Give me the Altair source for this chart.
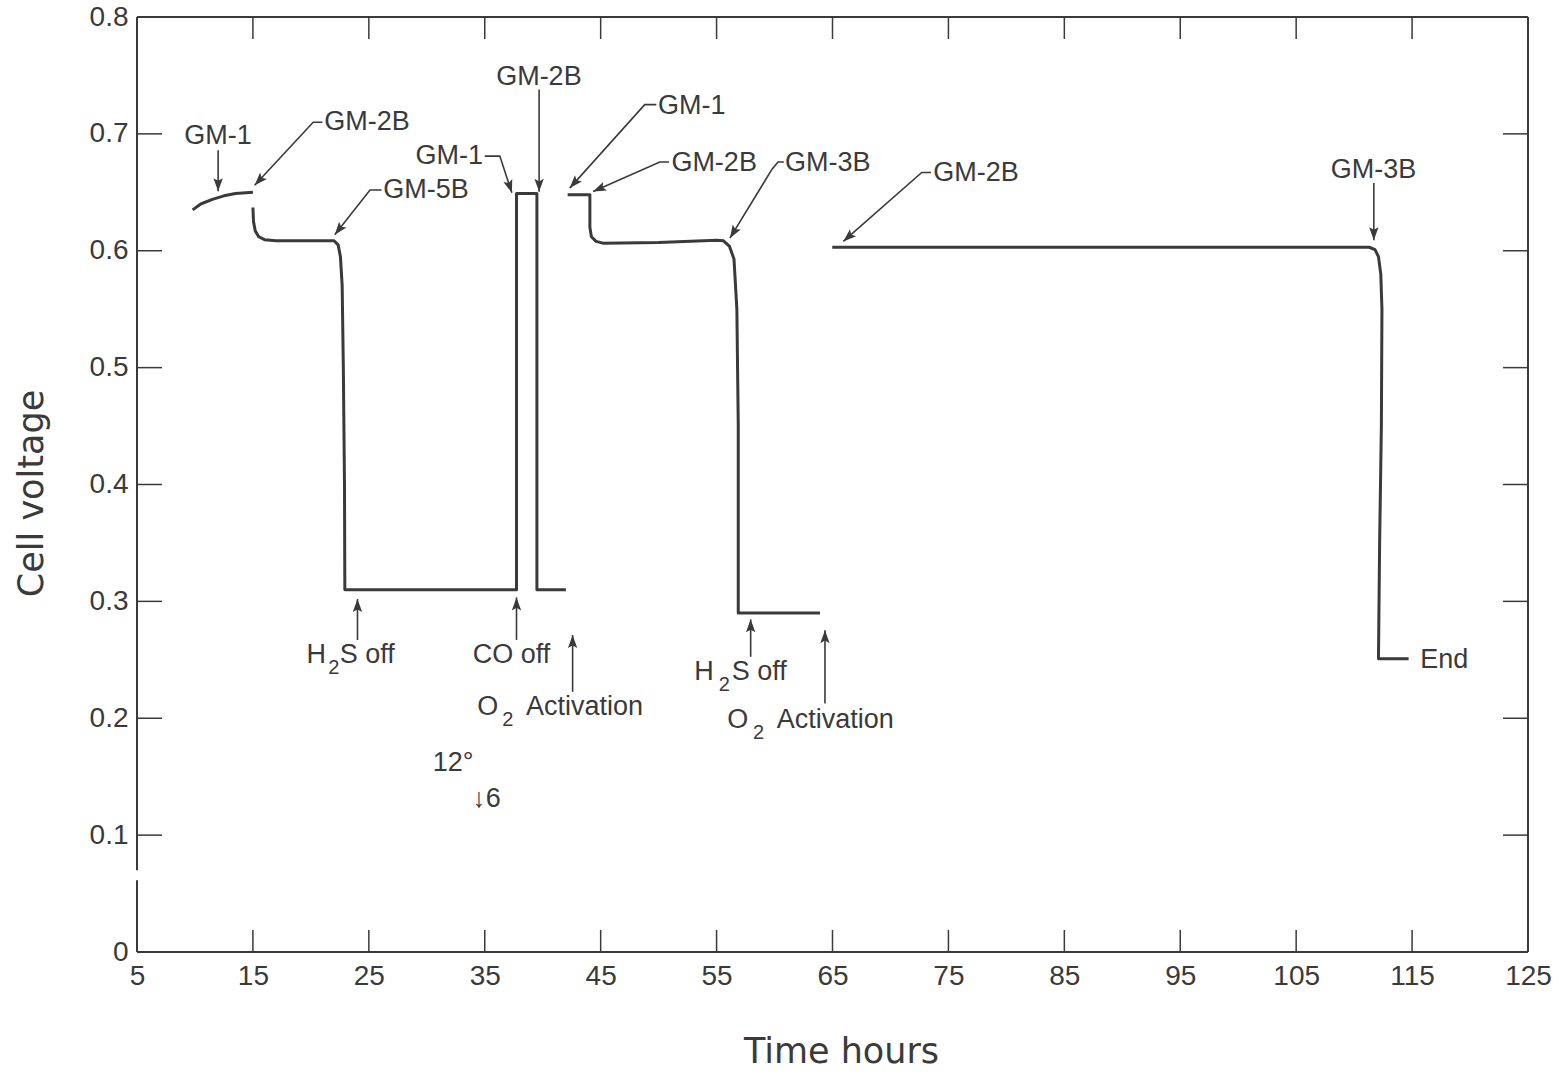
import math
import altair as alt
import pandas as pd

# ---------------- data ----------------
# cell-voltage trace, drawn as separate pieces
seg1_x = [9.8, 10.5, 11.5, 12.5, 13.5, 15.0]
seg1_y = [0.635, 0.640, 0.644, 0.647, 0.649, 0.650]

seg2_x = [15.0, 15.05, 15.2, 15.5, 16.0, 17.0, 22.0, 22.35, 22.55, 22.7, 22.8, 22.9, 22.93,
          37.74, 37.74, 39.5, 39.5, 42.0]
seg2_y = [0.637, 0.625, 0.617, 0.612, 0.6095, 0.6085, 0.6085, 0.605, 0.595, 0.57, 0.50, 0.40, 0.310,
          0.310, 0.649, 0.649, 0.310, 0.310]

seg3_x = [42.15, 44.07, 44.07, 44.2, 44.6, 45.2, 50.0, 55.0, 55.6, 56.1, 56.5, 56.75, 56.87, 56.87, 63.92]
seg3_y = [0.648, 0.648, 0.620, 0.612, 0.608, 0.6065, 0.607, 0.609, 0.6085, 0.604, 0.593, 0.55, 0.45,
          0.290, 0.290]

seg4_x = [64.98, 111.3, 111.8, 112.1, 112.3, 112.4, 112.35, 112.2, 112.1, 114.7]
seg4_y = [0.603, 0.603, 0.601, 0.595, 0.58, 0.55, 0.45, 0.35, 0.251, 0.251]

# annotation arrows: point lists, last point is the arrow tip
arrow_names = ["gm1a", "gm2ba", "gm5b", "gm1b", "gm2btop", "gm1c", "gm2bb", "gm3ba", "gm2bc",
               "gm3bb", "h2sa", "coa", "o2a", "h2sb", "o2b"]
arrow_xs = [
    [12.0, 12.0],
    [21.0, 20.2, 15.15],
    [26.1, 25.1, 22.06],
    [35.0, 36.3, 37.34],
    [39.69, 39.69],
    [49.8, 48.8, 42.33],
    [50.9, 50.1, 44.35],
    [60.8, 60.3, 59.8, 56.15],
    [73.5, 72.7, 65.93],
    [111.7, 111.7],
    [24.02, 24.02],
    [37.74, 37.74],
    [42.58, 42.58],
    [57.94, 57.94],
    [64.35, 64.35],
]
arrow_ys = [
    [0.686, 0.651],
    [0.710, 0.710, 0.656],
    [0.652, 0.652, 0.6136],
    [0.681, 0.681, 0.6496],
    [0.738, 0.6504],
    [0.725, 0.725, 0.6536],
    [0.676, 0.676, 0.6507],
    [0.676, 0.676, 0.670, 0.6108],
    [0.667, 0.667, 0.608],
    [0.658, 0.609],
    [0.267, 0.302],
    [0.267, 0.3034],
    [0.2226, 0.2712],
    [0.2526, 0.2846],
    [0.2127, 0.2754],
]

# labels (left-aligned, right-aligned, centred, and subscript digits)
left_texts = ["GM-2B", "GM-5B", "GM-1", "GM-2B", "GM-3B", "GM-2B", "End",
              "S off", "S off", "Activation", "Activation"]
left_x = [21.15, 26.25, 49.95, 51.1, 60.9, 73.7, 115.7, 22.49, 56.30, 38.55, 60.18]
left_y = [0.710, 0.652, 0.7235, 0.675, 0.675, 0.6664, 0.2497, 0.254, 0.2397, 0.2098, 0.1984]

right_texts = ["GM-1", "H", "H", "O", "O"]
right_x = [34.85, 21.3, 54.75, 36.16, 57.73]
right_y = [0.6807, 0.254, 0.2397, 0.2098, 0.1984]

center_texts = ["GM-1", "GM-2B", "GM-3B", "CO off", "12\u00b0", "\u21936"]
center_x = [11.98, 39.67, 111.67, 37.31, 32.27, 35.15]
center_y = [0.698, 0.749, 0.669, 0.254, 0.1613, 0.1313]

sub_texts = ["2", "2", "2", "2"]
sub_x = [21.98, 55.66, 36.99, 58.63]
sub_y = [0.2429, 0.2283, 0.1984, 0.187]

# axes
x_ticks = [5, 15, 25, 35, 45, 55, 65, 75, 85, 95, 105, 115, 125]
y_ticks = [0, 0.1, 0.2, 0.3, 0.4, 0.5, 0.6, 0.7, 0.8]
x_domain = [5, 125]
y_domain = [0, 0.8]
y_break = [0.0614, 0.070]   # gap drawn in the left frame line

# ---------------- styling ----------------
W, H = 1391, 935
FONT = "Liberation Sans"
TITLE_FONT = "DejaVu Sans"
INK = "#3a3a3a"
PX = W / (x_domain[1] - x_domain[0])
PY = H / (y_domain[1] - y_domain[0])
TICK_PX_X = 22   # length of vertical tick marks (px)
TICK_PX_Y = 25   # length of horizontal tick marks (px)

# ---------------- tables ----------------
rows = []
for s, (xx, yy) in enumerate([(seg1_x, seg1_y), (seg2_x, seg2_y), (seg3_x, seg3_y), (seg4_x, seg4_y)]):
    for i, (a, b) in enumerate(zip(xx, yy)):
        rows.append({"x": a, "y": b, "seg": s, "i": i})
trace_df = pd.DataFrame(rows)

arows, heads = [], []
for name, xx, yy in zip(arrow_names, arrow_xs, arrow_ys):
    for i, (a, b) in enumerate(zip(xx, yy)):
        arows.append({"x": a, "y": b, "id": name, "i": i})
    dx = (xx[-1] - xx[-2]) * PX
    dy = (yy[-1] - yy[-2]) * PY
    ang = math.degrees(math.atan2(dx, dy)) % 360
    heads.append({"x": xx[-1], "y": yy[-1], "angle": ang})
arrow_df = pd.DataFrame(arows)
head_df = pd.DataFrame(heads)

frame_df = pd.DataFrame({
    "x": [x_domain[0], x_domain[0], x_domain[1], x_domain[0], x_domain[0]],
    "x2": [x_domain[1], x_domain[1], x_domain[1], x_domain[0], x_domain[0]],
    "y": [y_domain[1], y_domain[0], y_domain[0], y_domain[0], y_break[1]],
    "y2": [y_domain[1], y_domain[0], y_domain[1], y_break[0], y_domain[1]],
})

tx = TICK_PX_Y / PX
ty = TICK_PX_X / PY
tick_rows = []
for v in x_ticks[1:-1]:
    tick_rows.append({"x": v, "x2": v, "y": y_domain[0], "y2": y_domain[0] + ty})
    tick_rows.append({"x": v, "x2": v, "y": y_domain[1], "y2": y_domain[1] - ty})
for v in y_ticks[1:-1]:
    tick_rows.append({"x": x_domain[0], "x2": x_domain[0] + tx, "y": v, "y2": v})
    tick_rows.append({"x": x_domain[1], "x2": x_domain[1] - tx, "y": v, "y2": v})
tick_df = pd.DataFrame(tick_rows)

left_df = pd.DataFrame({"x": left_x, "y": left_y, "t": left_texts})
right_df = pd.DataFrame({"x": right_x, "y": right_y, "t": right_texts})
center_df = pd.DataFrame({"x": center_x, "y": center_y, "t": center_texts})
sub_df = pd.DataFrame({"x": sub_x, "y": sub_y, "t": sub_texts})

# ---------------- encodings ----------------
xs = alt.Scale(domain=x_domain, nice=False, zero=False)
ys = alt.Scale(domain=y_domain, nice=False, zero=False)

axis_x = alt.Axis(values=x_ticks, title="Time hours", domain=False, ticks=False, grid=False,
                  labelFontSize=28, labelPadding=10, labelColor=INK, labelFont=FONT,
                  labelFlush=False, titleFont=TITLE_FONT, titleFontSize=35, titleFontWeight="normal",
                  titleColor=INK, titlePadding=44, titleX=704)
axis_y = alt.Axis(values=y_ticks, title="Cell voltage", domain=False, ticks=False, grid=False,
                  labelExpr="datum.value == 0 ? '0' : format(datum.value, '.1f')",
                  labelFontSize=28, labelPadding=9, labelColor=INK, labelFont=FONT,
                  labelFlush=False, titleFont=TITLE_FONT, titleFontSize=35, titleFontWeight="normal",
                  titleColor=INK, titlePadding=40, titleY=476)

X = alt.X("x:Q", scale=xs, axis=axis_x)
Y = alt.Y("y:Q", scale=ys, axis=axis_y)

frame = alt.Chart(frame_df).mark_rule(color=INK, strokeWidth=2).encode(x=X, x2="x2:Q", y=Y, y2="y2:Q")
ticks = alt.Chart(tick_df).mark_rule(color=INK, strokeWidth=1.5).encode(x=X, x2="x2:Q", y=Y, y2="y2:Q")

trace = alt.Chart(trace_df).mark_line(color=INK, strokeWidth=3, strokeJoin="round").encode(
    x=X, y=Y, detail="seg:N", order="i:Q")

arrows = alt.Chart(arrow_df).mark_line(color=INK, strokeWidth=1.6).encode(
    x=X, y=Y, detail="id:N", order="i:Q")

ARROW_PATH = "M0,0 L-0.36,1 L0,0.8 L0.36,1 Z"
heads_layer = alt.Chart(head_df).mark_point(shape=ARROW_PATH, filled=True, size=676, color=INK,
                                            opacity=1, strokeWidth=0).encode(
    x=X, y=Y, angle=alt.Angle("angle:Q", scale=None))


def text_layer(df, align, size=27):
    return alt.Chart(df).mark_text(font=FONT, fontSize=size, color=INK, align=align,
                                   baseline="middle").encode(x=X, y=Y, text="t:N")


chart = alt.layer(
    frame, ticks, trace, arrows, heads_layer,
    text_layer(left_df, "left"), text_layer(right_df, "right"), text_layer(center_df, "center"),
    text_layer(sub_df, "center", 20),
).properties(
    width=W, height=H,
    padding={"left": 137, "top": 17, "right": 34, "bottom": 122},
    autosize=alt.AutoSizeParams(type="none"),
    background="white",
).configure_view(stroke=None)

chart.save("out.html", embed_options={"renderer": "svg", "actions": False})
